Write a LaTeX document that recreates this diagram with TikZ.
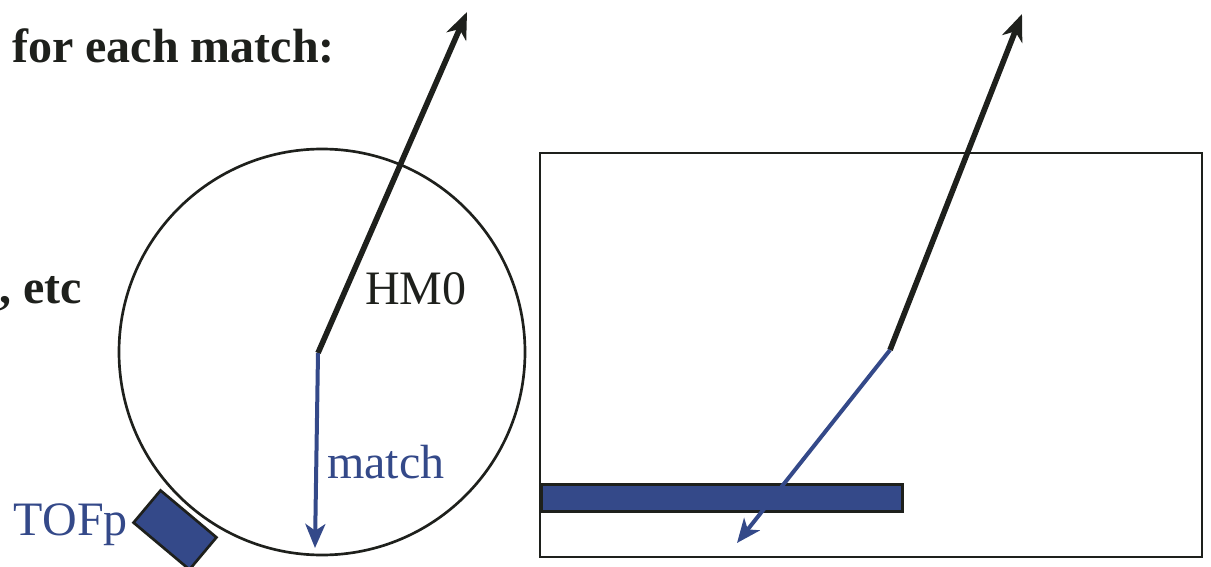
\documentclass[tikz,border=0pt]{standalone}
\usepackage{fontspec}
\setmainfont{Liberation Serif}
\usetikzlibrary{arrows.meta}
\definecolor{ink}{RGB}{30,32,28}
\definecolor{tofblue}{RGB}{52,73,137}
\tikzset{
  big/.style={font=\fontsize{36}{43}\selectfont, inner sep=0pt},
  bold/.style={big, font=\fontsize{36}{43}\selectfont\bfseries, text=ink},
  track/.style={draw=ink, line width=4.2pt, -{Stealth[length=20pt,width=16pt,inset=6pt]}},
  btrack/.style={draw=tofblue, line width=3pt, -{Stealth[length=18pt,width=15pt,inset=5pt]}},
  frame/.style={draw=ink, line width=1.8pt},
  slab/.style={draw=ink, fill=tofblue, line width=2pt}
}
\begin{document}
\begin{tikzpicture}[x=0.75pt,y=-0.75pt]
\useasboundingbox (0,0) rectangle (1211,567);
\node[bold, anchor=base west] (title) at (12,63) {for each match:};
\node[bold, anchor=base east] (etc) at (82,303) {, etc};
% left view
\node[draw=ink, line width=2pt, circle, minimum size=406*0.75pt, inner sep=0pt] (ring) at (322,352) {};
\coordinate (v1) at (318,353);
\coordinate (t1) at (467,12);
\coordinate (m1) at (315,548);
\draw[track] (v1) -- (t1);
\draw[btrack] (v1) -- (m1);
\node[big, text=ink, anchor=base west] (hm) at (365,304) {HM0};
\node[big, text=tofblue, anchor=base west] (mt) at (327,478) {match};
\node[slab, rotate=-40, minimum width=73*0.75pt, minimum height=42*0.75pt, inner sep=0pt] (tof) at (175,530) {};
\node[big, text=tofblue, anchor=base east] (toflab) at (128,535) {TOFp};
% right view
\node[frame, anchor=north west, minimum width=662*0.75pt, minimum height=404*0.75pt, inner sep=0pt] (box) at (539,152) {};
\node[slab, anchor=north west, minimum width=361*0.75pt, minimum height=27*0.75pt, inner sep=0pt] (bar) at (540,483) {};
\coordinate (v2) at (890,350);
\coordinate (t2) at (1022,14);
\coordinate (m2) at (737,543);
\draw[track] (v2) -- (t2);
\draw[btrack] (v2) -- (m2);
\end{tikzpicture}
\end{document}
